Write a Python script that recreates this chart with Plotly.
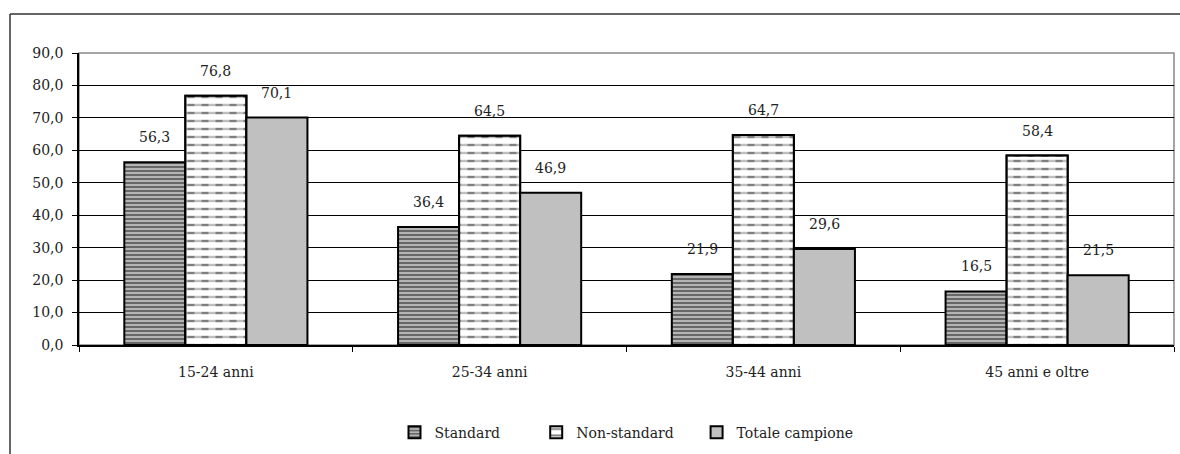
import plotly.graph_objects as go

categories = ["15-24 anni", "25-34 anni", "35-44 anni", "45 anni e oltre"]
standard = [56.3, 36.4, 21.9, 16.5]
non_standard = [76.8, 64.5, 64.7, 58.4]
totale = [70.1, 46.9, 29.6, 21.5]
series_names = ["Standard", "Non-standard", "Totale campione"]
y_ticks = [0, 10, 20, 30, 40, 50, 60, 70, 80, 90]

W, H = 1180, 454
L, R, T, B = 79, 6, 53, 109
FONT = "DejaVu Serif"
FS = 14
TXT = "#222222"
bw = 0.223
offs = [-1.5 * bw, -0.5 * bw, 0.5 * bw]
pads = ["\u00a0" * 7, "\u00a0" * 4, ""]

def fmt(v):
    return f"{v:.1f}".replace(".", ",")

fig = go.Figure()
fig.add_trace(go.Bar(
    x=categories, y=standard, name=series_names[0] + pads[0], offset=offs[0], width=bw,
    marker=dict(color="#a8a8a8", line=dict(color="black", width=2),
                pattern=dict(shape="-", fgcolor="#1a1a1a", bgcolor="#b4b4b4", size=4, solidity=0.5)),
))
fig.add_trace(go.Bar(
    x=categories, y=non_standard, name=series_names[1] + pads[1], offset=offs[1], width=bw,
    marker=dict(color="white", line=dict(color="black", width=2),
                pattern=dict(shape="-", fgcolor="black", bgcolor="white", size=8, solidity=0.3)),
))
fig.add_trace(go.Bar(
    x=categories, y=non_standard, name=series_names[1], offset=offs[1], width=bw, showlegend=False,
    hoverinfo="skip",
    marker=dict(color="rgba(0,0,0,0)", line=dict(color="black", width=2),
                pattern=dict(shape="|", fgcolor="white", bgcolor="rgba(0,0,0,0)", size=14, solidity=0.5)),
))
fig.add_trace(go.Bar(
    x=categories, y=totale, name=series_names[2] + pads[2], offset=offs[2], width=bw,
    marker=dict(color="#c0c0c0", line=dict(color="black", width=2)),
))

for s, vals in enumerate([standard, non_standard, totale]):
    for i, v in enumerate(vals):
        fig.add_annotation(x=i + offs[s] + bw / 2, y=v, text=fmt(v), showarrow=False,
                           yanchor="middle", yshift=25, xref="x", yref="y",
                           font=dict(family=FONT, size=FS, color=TXT))

pw = W - L - R
ph = H - T - B
fig.add_shape(type="line", xref="paper", yref="paper",
              x0=(10 - L) / pw, x1=(W + 5 - L) / pw, y0=(H - 14 - B) / ph, y1=(H - 14 - B) / ph,
              line=dict(color="#333", width=1.5))
fig.add_shape(type="line", xref="paper", yref="paper",
              x0=(10 - L) / pw, x1=(10 - L) / pw, y0=(H - 14 - B) / ph, y1=(-5 - B) / ph,
              line=dict(color="#333", width=1.5))
fig.add_shape(type="rect", xref="paper", yref="paper", x0=0, x1=1, y0=0, y1=1,
              line=dict(color="#888", width=1.5), layer="below")

fig.update_layout(
    width=W, height=H, margin=dict(l=L, r=R, t=T, b=B, autoexpand=False),
    barmode="overlay", plot_bgcolor="white", paper_bgcolor="white",
    separators=",.",
    font=dict(family=FONT, size=FS, color=TXT),
    showlegend=True,
    legend=dict(orientation="h", x=0.5, xanchor="center", y=-0.30, yanchor="middle",
                font=dict(family=FONT, size=FS, color=TXT), traceorder="normal"),
    xaxis=dict(type="category", showgrid=False, showline=True, linecolor="black", linewidth=1.5,
               ticks="outside", tickson="boundaries", ticklen=5, tickcolor="black",
               ticklabelstandoff=13, range=[-0.5, 3.5],
               tickfont=dict(family=FONT, size=FS, color=TXT)),
    yaxis=dict(range=[0, 90], tickvals=y_ticks, tickformat=".1f", showgrid=True, gridcolor="black",
               gridwidth=1, showline=True, linecolor="black", linewidth=1.5, ticks="outside",
               ticklen=5, tickcolor="black", zeroline=False, ticklabelstandoff=6,
               tickfont=dict(family=FONT, size=FS, color=TXT)),
)

fig.write_html("out.html")
